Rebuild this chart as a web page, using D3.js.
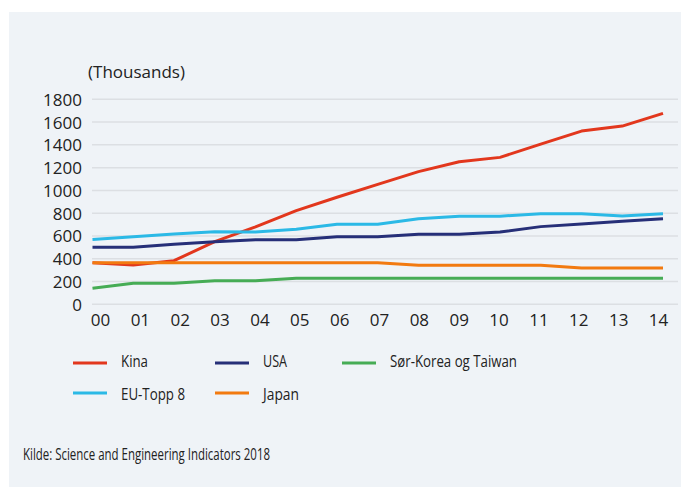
<!DOCTYPE html>
<html>
<head>
<meta charset="utf-8">
<script src="https://cdn.jsdelivr.net/npm/d3@7"></script>
<style>
  body { margin: 0; background: #fff; }
  svg { display: block; }
  .axis text { font-family: "Open Sans", sans-serif; font-size: 17px; fill: #222; }
  .narrow { font-family: "Open Sans", sans-serif; fill: #222; }
</style>
</head>
<body>
<svg width="681" height="487"></svg>
<script>
// years along the x axis
const years = ["00","01","02","03","04","05","06","07","08","09","10","11","12","13","14"];

// values in thousands
const kina   = [365, 345, 383, 550, 680, 822, 940, 1053, 1165, 1252, 1290, 1407, 1521, 1565, 1677];
const usa    = [500, 500, 527, 550, 567, 567, 594, 594, 614, 614, 635, 682, 705, 729, 752];
const euTopp = [570, 594, 617, 638, 635, 658, 702, 702, 752, 773, 773, 796, 796, 775, 796];
const japan  = [365, 365, 365, 365, 365, 365, 365, 365, 342, 342, 342, 342, 319, 319, 319];
const korea  = [140, 184, 184, 207, 207, 228, 228, 228, 228, 228, 228, 228, 228, 228, 228];

const yTicks = [0, 200, 400, 600, 800, 1000, 1200, 1400, 1600, 1800];

// legend text is set in a condensed face in the original, so squeeze it
const series = [
  { name: "Kina", values: kina, color: "#e2371d", width: 27 },
  { name: "USA", values: usa, color: "#262f78", width: 24 },
  { name: "Sør-Korea og Taiwan", values: korea, color: "#46ac55", width: 127 },
  { name: "EU-Topp 8", values: euTopp, color: "#2bb9e6", width: 64 },
  { name: "Japan", values: japan, color: "#f27a10", width: 36 }
];

const svg = d3.select("svg");

// panel background
svg.append("rect")
  .attr("x", 9).attr("y", 12)
  .attr("width", 672).attr("height", 475)
  .attr("fill", "#eff3f7");

const x = d3.scalePoint().domain(years).range([92.5, 663]);
const xLabels = d3.scalePoint().domain(years).range([100, 658]);
const y = d3.scaleLinear().domain([0, 1800]).range([304.3, 99.3]);

// gridlines
svg.append("g")
  .selectAll("line")
  .data(yTicks)
  .join("line")
  .attr("x1", 92).attr("x2", 678)
  .attr("y1", d => y(d)).attr("y2", d => y(d))
  .attr("stroke", "#dcdfe3")
  .attr("stroke-width", 1.5);

// y axis labels
const yAxis = svg.append("g")
  .attr("class", "axis")
  .attr("transform", "translate(84,0)")
  .call(d3.axisLeft(y).tickValues(yTicks).tickFormat(d3.format("d")).tickSize(0).tickPadding(2));
yAxis.select(".domain").remove();
yAxis.selectAll("text").attr("dy", "0.35em");

// x axis labels
const xAxis = svg.append("g")
  .attr("class", "axis")
  .attr("transform", "translate(0,312)")
  .call(d3.axisBottom(xLabels).tickSize(0).tickPadding(2));
xAxis.select(".domain").remove();

svg.append("text")
  .attr("x", 88).attr("y", 78)
  .attr("font-family", "Open Sans, sans-serif")
  .attr("font-size", 17)
  .attr("fill", "#222")
  .text("(Thousands)");

const line = d3.line()
  .x((d, i) => x(years[i]))
  .y(d => y(d));

svg.append("g")
  .selectAll("path")
  .data(series)
  .join("path")
  .attr("d", d => line(d.values))
  .attr("fill", "none")
  .attr("stroke", d => d.color)
  .attr("stroke-width", 3)
  .attr("stroke-linejoin", "round");

// legend: 3 columns, 2 rows
const legendCols = [73, 215, 342];
const legendRows = [363, 393];
const legend = svg.append("g")
  .selectAll("g")
  .data(series)
  .join("g")
  .attr("transform", (d, i) => `translate(${legendCols[i % 3]},${legendRows[Math.floor(i / 3)]})`);

legend.append("line")
  .attr("x1", 0).attr("x2", 34)
  .attr("stroke", d => d.color)
  .attr("stroke-width", 3);

legend.append("text")
  .attr("class", "narrow")
  .attr("x", 48).attr("y", (d, i) => i < 3 ? 4 : 7)
  .attr("font-size", 17)
  .attr("textLength", d => d.width)
  .attr("lengthAdjust", "spacingAndGlyphs")
  .text(d => d.name);

svg.append("text")
  .attr("class", "narrow")
  .attr("x", 23).attr("y", 460)
  .attr("font-size", 17)
  .attr("textLength", 247)
  .attr("lengthAdjust", "spacingAndGlyphs")
  .text("Kilde: Science and Engineering Indicators 2018");
</script>
</body>
</html>
